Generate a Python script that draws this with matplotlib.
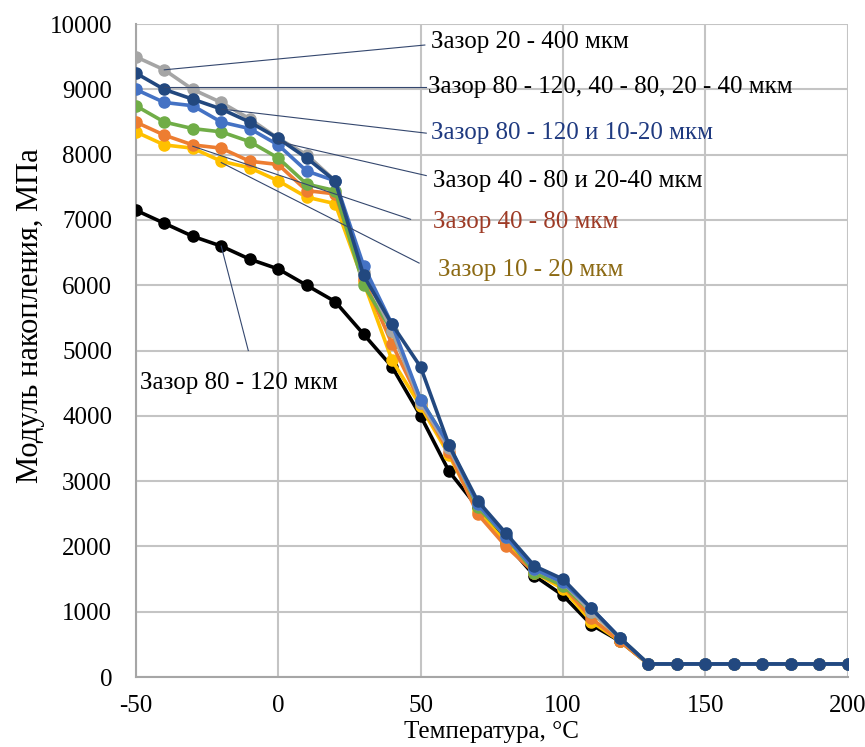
import matplotlib
matplotlib.use("Agg")
import matplotlib.pyplot as plt

plt.rcParams['font.family'] = ['Liberation Serif', 'DejaVu Serif']
plt.rcParams['axes.unicode_minus'] = False

# Temperature, °C
temps = list(range(-50, 201, 10))

tail = [200] * 8  # 130..200 °C

black_vals = [7150, 6950, 6750, 6600, 6400, 6250, 6000, 5750, 5250, 4750, 4000, 3150,
              2600, 2050, 1550, 1250, 800, 550] + tail
yellow_vals = [8350, 8150, 8100, 7900, 7800, 7600, 7350, 7250, 6050, 4850, 4150, 3400,
               2550, 2050, 1600, 1350, 850, 550] + tail
orange_vals = [8500, 8300, 8150, 8100, 7900, 7850, 7450, 7400, 6100, 5100, 4200, 3450,
               2500, 2000, 1600, 1400, 900, 550] + tail
green_vals = [8750, 8500, 8400, 8350, 8200, 7950, 7550, 7450, 6000, 5300, 4250, 3550,
              2600, 2150, 1600, 1400, 1000, 600] + tail
blue_vals = [9000, 8800, 8750, 8500, 8400, 8150, 7750, 7600, 6300, 5400, 4250, 3550,
             2650, 2150, 1650, 1450, 1050, 600] + tail
gray_vals = [9500, 9300, 9000, 8800, 8550, 8250, 8000, 7600, 6200, 5300, 4200, 3500,
             2650, 2150, 1650, 1450, 1000, 600] + tail
navy_vals = [9250, 9000, 8850, 8700, 8500, 8250, 7950, 7600, 6150, 5400, 4750, 3550,
             2700, 2200, 1700, 1500, 1050, 600] + tail

series = [
    (black_vals, '#000000'),
    (yellow_vals, '#FFC000'),
    (orange_vals, '#ED7D31'),
    (green_vals, '#70AD47'),
    (gray_vals, '#A5A5A5'),
    (blue_vals, '#4472C4'),
    (navy_vals, '#22487F'),
]

# Callout labels: text, text position, point the leader starts from, colour
labels = [
    ("Зазор 20 - 400 мкм", (53.5, 9720), (-40, 9300), '#000000'),
    ("Зазор 80 - 120, 40 - 80, 20 - 40 мкм", (52.5, 9030), (-40, 9030), '#000000'),
    ("Зазор 80 - 120 и 10-20 мкм", (53.5, 8340), (-20, 8700), '#1F3A80'),
    ("Зазор 40 - 80 и 20-40 мкм", (54.5, 7600), (0, 8200), '#000000'),
    ("Зазор 40 - 80 мкм", (54.5, 6970), (-30, 8130), '#9E3B26'),
    ("Зазор 10 - 20 мкм", (56.0, 6230), (-20, 7880), '#8C6A14'),
    ("Зазор 80 - 120 мкм", (-48.5, 4500), (-20, 6600), '#000000'),
]
leader_ends = [(51.5, 9680), (52.0, 9030), (52.0, 8330), (52.0, 7680),
               (46.5, 7010), (49.5, 6340), (-10.5, 5000)]

fig = plt.figure(figsize=(8.65, 7.47), dpi=100)
ax = fig.add_axes([0.157, 0.0937, 0.823, 0.874])

for vals, col in series:
    ax.plot(temps, vals, color=col, lw=2.6, marker='o', ms=8,
            markerfacecolor=col, markeredgecolor=col, zorder=3)

for (txt, pos, start, col), end in zip(labels, leader_ends):
    ax.plot([start[0], end[0]], [start[1], end[1]], color='#34476E', lw=0.8, zorder=4)
    ax.text(pos[0], pos[1], txt, color=col, fontsize=18, va='center', ha='left', zorder=5)

ax.set_xlim(-50, 200)
ax.set_ylim(0, 10000)
ax.set_xticks(range(-50, 201, 50))
ax.set_yticks(range(0, 10001, 1000))
ax.grid(True, color='#C4C4C4', lw=1.5, zorder=0)
ax.set_axisbelow(True)
for s in ['top', 'right']:
    ax.spines[s].set_visible(False)
for s in ['left', 'bottom']:
    ax.spines[s].set_color('#A6A6A6')
    ax.spines[s].set_linewidth(1.5)
ax.tick_params(length=0, labelsize=18)
ax.tick_params(axis='y', pad=17)
ax.tick_params(axis='x', pad=13)
ax.set_xlabel("Температура, °C", fontsize=18)
ax.set_ylabel("Модуль накопления, МПа", fontsize=22)
ax.xaxis.set_label_coords(0.5, -0.068)
ax.yaxis.set_label_coords(-0.127, 0.554)

fig.savefig("out.png", dpi=100)
